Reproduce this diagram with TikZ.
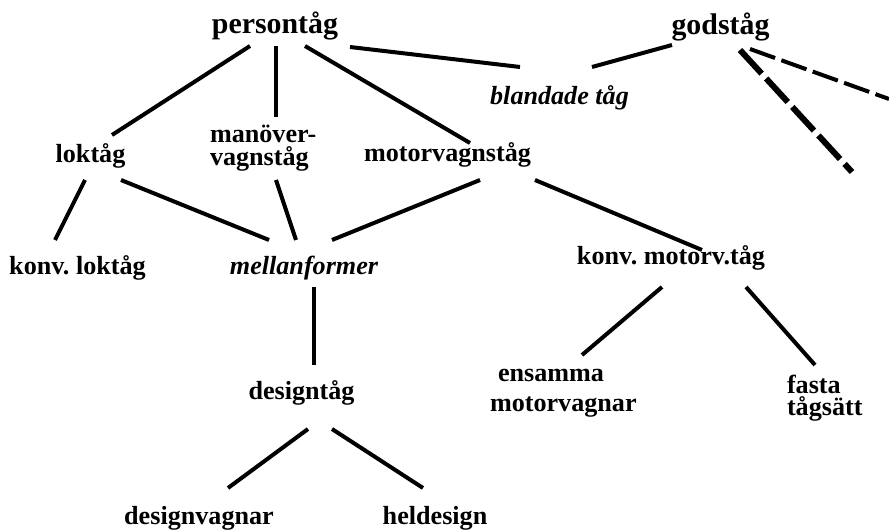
\documentclass[tikz,border=0pt]{standalone}
\usepackage{fontspec}
\setmainfont{Liberation Serif}
\frenchspacing
\newcommand\twolines[3]{\vtop{\baselineskip=#1\lineskiplimit=-100pt\lineskip=0pt\hbox{#2}\hbox{#3}}}
\begin{document}
\begin{tikzpicture}[x=0.75pt,y=-0.75pt,
  lbl/.style={inner sep=0pt,outer sep=0pt,font=\fontsize{19.6}{22}\selectfont\bfseries},
  toplbl/.style={lbl,font=\fontsize{22.4}{26}\selectfont\bfseries},
  itlbl/.style={lbl,font=\fontsize{19.6}{22}\selectfont\bfseries\itshape},
  edge/.style={line width=3pt},
  thickdash/.style={line width=4.5pt,dash pattern=on 24pt off 5pt},
  thindash/.style={line width=3pt,dash pattern=on 20pt off 5pt}]
\useasboundingbox (0,0) rectangle (889,530);
% nodes
\node[toplbl,anchor=base] (pt) at (275,34) {persontåg};
\node[toplbl,anchor=base] (gt) at (720.5,35) {godståg};
\node[itlbl,anchor=base] (bl) at (559.5,105) {blandade tåg};
\node[lbl,anchor=base] (lok) at (90.5,163) {loktåg};
\node[lbl,anchor=base west] (man) at (210,142.7) {\twolines{16.9pt}{manöver-}{vagnståg}};
\node[lbl,anchor=base] (mot) at (447.5,161.7) {motorvagnståg};
\node[lbl,anchor=base] (kl) at (77.5,275) {konv. loktåg};
\node[itlbl,anchor=base] (mel) at (304,275) {mellanformer};
\node[lbl,anchor=base] (kmt) at (671,265) {konv. motorv.tåg};
\node[lbl,anchor=base west] (ens) at (490,381.7) {\twolines{22.5pt}{\kern6pt ensamma}{motorvagnar}};
\node[lbl,anchor=base west] (fas) at (787,393.3) {\twolines{16.9pt}{fasta}{tågsätt}};
\node[lbl,anchor=base] (des) at (301.5,400) {designtåg};
\node[lbl,anchor=base] (dv) at (199,525) {designvagnar};
\node[lbl,anchor=base] (hd) at (435,525) {heldesign};
% free ends
\coordinate (gtend1) at (852,172);
\coordinate (gtend2) at (889,99);
% connectors
\draw[edge] ([shift={(-25,12)}]pt.base) -- ([shift={(21.5,-28)}]lok.base);
\draw[edge] ([shift={(1,12)}]pt.base) -- ([shift={(66,-25.7)}]man.base west);
\draw[edge] ([shift={(30,12)}]pt.base) -- ([shift={(22.5,-18.7)}]mot.base);
\draw[edge] ([shift={(75,13)}]pt.base) -- ([shift={(-39.5,-38)}]bl.base);
\draw[edge] ([shift={(-48.5,10)}]gt.base) -- ([shift={(32.5,-38)}]bl.base);
\draw[thickdash] ([shift={(19.5,15)}]gt.base) -- (gtend1);
\draw[thindash] ([shift={(29.5,14)}]gt.base) -- (gtend2);
\draw[edge] ([shift={(-5.5,17)}]lok.base) -- ([shift={(-22.5,-35)}]kl.base);
\draw[edge] ([shift={(30.5,17)}]lok.base) -- ([shift={(-35,-35)}]mel.base);
\draw[edge] ([shift={(66,37.3)}]man.base west) -- ([shift={(-8,-35)}]mel.base);
\draw[edge] ([shift={(32.5,18.3)}]mot.base) -- ([shift={(28,-35)}]mel.base);
\draw[edge] ([shift={(87.5,18.3)}]mot.base) -- ([shift={(31,-15)}]kmt.base);
\draw[edge] ([shift={(-9,22)}]kmt.base) -- ([shift={(92,-26.7)}]ens.base west);
\draw[edge] ([shift={(75,22)}]kmt.base) -- ([shift={(28,-28.3)}]fas.base west);
\draw[edge] ([shift={(10,12)}]mel.base) -- ([shift={(12.5,-35)}]des.base);
\draw[edge] ([shift={(6.5,29)}]des.base) -- ([shift={(29,-37)}]dv.base);
\draw[edge] ([shift={(30.5,29)}]des.base) -- ([shift={(-12,-37)}]hd.base);
\end{tikzpicture}
\end{document}
